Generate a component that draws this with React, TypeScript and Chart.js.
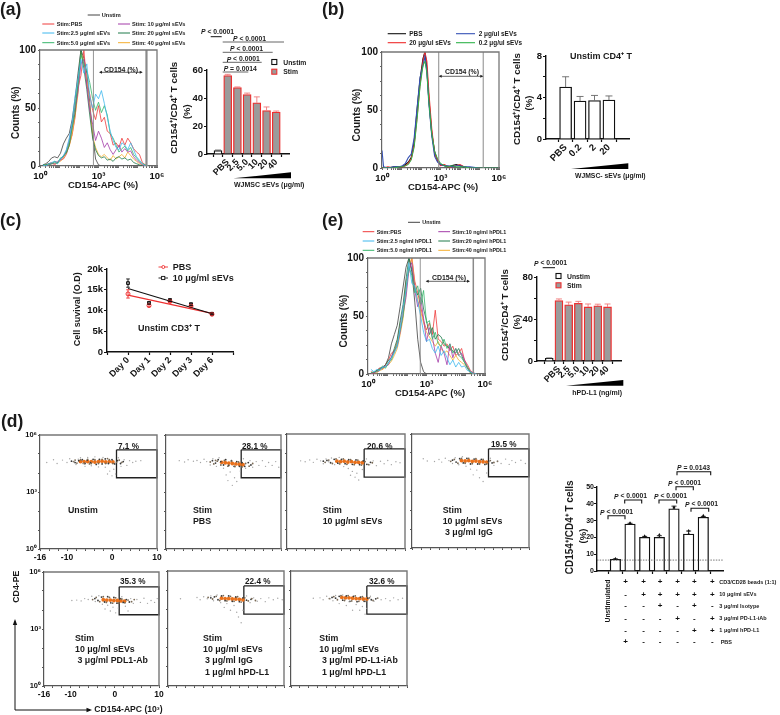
import React, { useEffect, useRef } from 'react';
import { Chart, registerables } from 'chart.js';
Chart.register(...registerables);

const FONT = '"Liberation Sans", Arial, sans-serif';

// ---------- histogram data (x = decades of CD154-APC, y = counts %) ----------
const binsHist = [0.15,0.3,0.45,0.6,0.75,0.9,1.05,1.2,1.35,1.5,1.65,1.8,1.95,2.1,2.25,2.4,2.55,2.7,2.85,3.0,3.15,3.3,3.45,3.6,3.75,3.9,4.05,4.2,4.35,4.5,4.65,4.8,4.95,5.1,5.25,5.4,5.55];
const aUnstim = [1,2,4,7,8,7,11,19,24,28,40,58,80,100,93,80,55,27,6,1,0,0,0,0,0,0,0,0,0,0,0,0,0,0,0,0,0];
const aPbs = [0,1,2,3,1,3,5,6,10,18,27,42,68,78,100,70,62,48,40,52,38,42,30,28,18,20,16,24,18,24,20,15,12,10,3,1,0];
const aS25 = [1,0,2,3,4,2,6,9,14,24,38,60,75,92,80,88,60,50,62,58,65,54,42,30,22,16,14,20,18,14,20,14,8,5,2,0,0];
const aS50 = [0,1,1,2,3,2,7,8,12,20,34,52,70,96,88,82,72,58,48,55,46,52,44,28,24,18,12,15,17,13,16,10,7,4,2,1,0];
const aS10 = [0,0,1,2,2,4,5,8,13,22,36,50,64,88,92,70,48,36,22,30,24,16,20,14,10,14,18,12,15,12,13,8,5,3,1,0,0];
const aS20 = [1,1,2,2,4,3,6,9,11,18,33,46,72,100,84,66,44,24,14,9,7,8,5,6,4,7,8,6,7,5,6,3,2,1,0,0,0];
const aS40 = [0,1,1,2,2,3,4,7,12,17,28,44,62,98,90,74,50,26,16,10,8,10,7,5,9,6,8,10,7,12,9,6,4,2,1,0,0];

const eUnstim = [0,1,3,5,6,8,14,26,34,42,58,75,92,100,88,62,30,10,2,0,0,0,0,0,0,0,0,0,0,0,0,0,0,0,0,0,0];
const ePbs = [2,1,3,5,4,8,12,18,20,28,44,56,80,88,100,80,70,58,46,38,44,34,55,30,28,24,26,20,24,16,18,22,12,8,3,1,0];
const eN25 = [4,2,4,3,6,6,10,14,18,24,40,58,72,96,78,76,62,50,36,28,30,22,18,24,16,20,14,8,12,6,10,6,7,3,2,0,0];
const eN50 = [1,2,2,4,7,5,10,12,19,26,38,50,74,92,85,70,76,60,72,44,46,30,36,26,24,30,22,26,18,22,16,14,10,6,2,0,0];
const eN10 = [0,1,2,3,6,7,8,15,20,24,36,52,66,90,96,72,58,66,48,28,40,32,18,10,24,18,8,26,14,22,16,18,12,6,2,1,0];
const eN20 = [1,1,3,4,5,8,12,14,22,30,46,60,82,100,90,74,68,74,56,46,34,40,30,34,32,26,24,22,20,18,22,16,10,5,1,0,0];
const eN40 = [0,1,1,3,4,6,8,11,16,22,34,48,70,94,100,76,64,54,44,36,32,28,24,28,22,18,20,16,12,16,12,10,8,5,1,0,0];

const binsB = [0,0.08,0.3,0.6,0.9,1.05,1.2,1.35,1.5,1.65,1.8,1.95,2.1,2.2,2.3,2.4,2.55,2.7,2.85,3.0,3.2,3.4,3.6,3.8,4.0,4.2,4.5,5.0,5.5,6];
const bPbs = [0,0,0,1,1,1,3,5,9,22,50,76,94,100,86,60,30,14,6,3,2,1,2,3,2,1,0,0,0,0];
const b20 = [0,0,1,0,1,1,2,4,8,20,44,72,92,100,92,66,34,12,7,2,3,1,1,2,3,1,0,0,0,0];
const b2 = [15,1,0,1,1,2,4,9,12,26,52,78,88,96,84,56,28,10,5,3,2,2,1,2,2,1,1,0,0,0];
const b02 = [0,0,0,0,1,1,2,3,7,18,42,70,88,92,82,58,30,14,8,4,2,1,2,1,1,1,0,0,0,0];

const histColors = { unstim:'#555555', pbs:'#ef3b3b', s25:'#3db7ee', s50:'#35b56a', s10:'#a33ba8', s20:'#1f7a4a', s40:'#f5ae2e' };

// ---------- bar data ----------
const aBarLabels = ['', 'PBS', '2.5', '5.0', '10', '20', '40'];
const aBarValues = [2.5, 56, 47.5, 42.5, 36.5, 31, 30];
const aBarErrors = [0.3, 0.9, 0.4, 1, 4.3, 2.6, 0.7];

const bBarLabels = ['PBS', '0.2', '2', '20'];
const bBarValues = [5, 3.65, 3.7, 3.75];
const bBarErrors = [1, 0.45, 0.5, 0.4];

const eBarLabels = ['', 'PBS', '2.5', '5.0', '10', '20', '40'];
const eBarValues = [2.5, 57.5, 53.5, 55, 51.5, 52.5, 51.5];
const eBarErrors = [0.4, 1.6, 2.6, 1.8, 2.8, 1.6, 2.8];

const dBarValues = [7, 28, 20, 20, 37, 22, 32];
const dBarErrors = [0.2, 0.4, 0.6, 1, 1.6, 1.8, 0.5];
const dRep1 = [7, 28.6, 20.8, 19.3, 38, 20.4, 32];
const dRep2 = [7.3, 28, 19.8, 21.6, 35, 24, 33];
const dRep3 = [6.9, 27.8, 20.2, 20, 37.6, 22, 32.2];
const dBaseline = 6.5;

// ---------- line data (c) ----------
const cDays = ['', 'Day 0', 'Day 1', 'Day 2', 'Day 3', 'Day 6', ''];
const cPbs = [14000, 11200, 12200, 11100, 9100];
const cPbsErr = [1000, 300, 300, 200, 200];
const cSev = [16600, 11800, 12500, 11500, 9200];
const cSevErr = [1000, 300, 300, 300, 200];
const cTrendPbs = [13700, 9300];
const cTrendSev = [15300, 9200];

// ---------- flow dot plots: flat x,y lists (biex 10^3 units, y in decades) ----------
const pale1 = [-14.5,4.55,-13,4.7,-12.2,4.5,-11,4.68,-10,4.55,-9.4,4.75,-8.7,4.6,-8,4.45,-7.5,4.72,-7,4.8,-6.5,4.5,-6,4.35,-5.4,4.82,-4.6,4.38,-3.8,4.85,-3,4.32,-2,4.82,-1.5,4.3,-1,3.95,-0.5,4.1,0,3.85,0.4,4.2,0.8,3.95,1.4,4.8,2,4.35,2.7,4.7,3.3,4.4,3.9,4.65,4.6,4.55,5.3,4.62,6.4,4.65];
const mid1 = [-8.5,4.6,-7.8,4.52,-7,4.7,-6.2,4.5,-5.4,4.72,-4.6,4.5,-3.8,4.7,-3,4.5,-2.2,4.72,-1.4,4.5,-0.6,4.7,0.2,4.5,1,4.56,1.6,4.68,-8.2,4.68,-5,4.48,-1,4.76,2.2,4.56];
const dark1 = [-9,4.62,-8.2,4.55,-7.4,4.65,-6.6,4.7,-6,4.5,-5.5,4.68,-4.8,4.55,-4.2,4.72,-3.5,4.45,-2.8,4.72,-2.2,4.48,-1.5,4.74,-0.8,4.5,0,4.7,0.6,4.48,1.2,4.65,1.9,4.5,2.5,4.6];
const core1 = [-7,4.6,-6.2,4.6,-5.4,4.6,-4.6,4.6,-3.8,4.58,-3,4.6,-2.2,4.62,-1.4,4.58,-0.6,4.6,0.2,4.58];
const pale2 = [-13,4.65,-11.8,4.58,-11,4.7,-9.8,4.62,-9,4.66,-8.2,4.55,-7.4,4.72,-6.8,4.6,-6,4.42,-5.4,4.75,-4.6,4.35,-4,4.8,-3,4.25,-2.4,3.9,-2,3.6,-1.5,4.05,-1,3.35,-0.5,3.75,0,3.55,0.8,4.1,1.5,4.75,2,4.25,3,4.65,3.6,4.3,4.4,4.6,5,4.4,5.8,4.65,6.5,4.35,7.2,4.55,8,4.4,8.8,4.6,9.5,4.3];
const mid2 = [-6,4.58,-5.2,4.48,-4.4,4.62,-3.6,4.42,-2.8,4.66,-2,4.36,-1.2,4.62,-0.4,4.34,0.4,4.58,1.2,4.32,2,4.5,2.8,4.36,3.6,4.5,-4.8,4.66];
const dark2 = [-5.5,4.65,-4.8,4.52,-4.2,4.7,-3.6,4.6,-3,4.42,-2.5,4.7,-1.8,4.4,-1.2,4.65,-0.6,4.35,0,4.6,0.6,4.35,1.2,4.55,1.8,4.35,2.6,4.55,3.2,4.42];
const core2 = [-3.4,4.56,-2.6,4.54,-1.8,4.52,-1,4.5,-0.2,4.48,0.6,4.46,1.4,4.44];
const pale3 = [-13,4.6,-12,4.55,-11,4.65,-10.2,4.52,-9.4,4.68,-8.6,4.6,-8,4.45,-7.4,4.7,-6.8,4.55,-6.2,4.75,-5.5,4.4,-4.5,4.78,-3.5,4.3,-2.5,4.2,-2,3.85,-1.6,4.05,-1,3.75,-0.6,3.95,-0.2,3.6,0.6,4.15,1.5,4.7,2.2,4.4,3,4.6,3.7,4.35,4.6,4.58,5.4,4.45,6.2,4.62,7,4.4,8,4.55,8.9,4.5];
const mid3 = [-7.6,4.52,-6.8,4.64,-6,4.46,-5.2,4.7,-4.4,4.44,-3.6,4.7,-2.8,4.42,-2,4.66,-1.2,4.4,-0.4,4.64,0.4,4.38,1.2,4.56,2,4.4,2.8,4.5];
const dark3 = [-8,4.58,-7.2,4.62,-6.4,4.5,-5.6,4.68,-4.8,4.48,-4,4.68,-3.2,4.45,-2.4,4.66,-1.6,4.42,-0.8,4.65,0,4.4,0.8,4.6,1.6,4.42,2.4,4.52];
const core3 = [-5,4.58,-4.2,4.56,-3.4,4.58,-2.6,4.54,-1.8,4.56,-1,4.52,-0.2,4.52,0.6,4.5];
const pale4 = [-13.5,4.7,-12.6,4.58,-11,4.55,-10,4.66,-9.4,4.52,-8.6,4.72,-7.8,4.6,-7,4.45,-6.4,4.75,-5.6,4.38,-4.8,4.8,-4,4.3,-3,4.15,-2.4,3.85,-1.6,4.1,-1,3.7,-0.2,3.5,0.6,3.95,1.4,4.72,2.2,4.35,3,4.6,3.8,4.45,4.8,4.68,5.6,4.4,6.2,4.6,7,4.5,8.2,4.62,9.2,4.45];
const mid4 = [-7.4,4.56,-6.6,4.66,-5.8,4.46,-5,4.72,-4.2,4.46,-3.4,4.72,-2.6,4.44,-1.8,4.7,-1,4.42,-0.2,4.66,0.6,4.42,1.4,4.6,2.2,4.5,3,4.56];
const dark4 = [-7,4.62,-6.2,4.52,-5.4,4.7,-4.6,4.48,-3.8,4.72,-3,4.42,-2.2,4.68,-1.4,4.42,-0.6,4.66,0.2,4.4,1,4.55,1.8,4.48];
const core4 = [-5,4.6,-4.2,4.58,-3.4,4.6,-2.6,4.56,-1.8,4.58,-1,4.54,-0.2,4.54,0.6,4.52];
const pale5 = [-9.7,4.5,-8.6,4.52,-7.6,4.48,-6.8,4.6,-6,4.55,-5.2,4.72,-4.4,4.45,-3.6,4.75,-2.8,4.3,-2.2,4.05,-1.6,4.25,-1,3.95,-0.4,4.15,0.2,3.85,0.8,4.1,1.6,4.7,2.4,4.2,3,3.95,3.6,4.6,4.2,4.35,5,4.55,5.8,4.4,6.6,4.62,7.4,4.35,8.2,4.5,9,4.4,9.6,4.6];
const mid5 = [-5,4.55,-4.2,4.66,-3.4,4.44,-2.6,4.7,-1.9,4.4,-1.2,4.66,-0.5,4.36,0.2,4.64,0.9,4.36,1.6,4.58,2.3,4.38,3,4.52,3.8,4.44,4.4,4.55];
const dark5 = [-4.5,4.6,-3.8,4.5,-3,4.68,-2.3,4.42,-1.6,4.7,-0.9,4.38,-0.2,4.66,0.5,4.36,1.2,4.6,1.9,4.4,2.6,4.55,3.3,4.42];
const core5 = [-2.6,4.54,-1.8,4.52,-1,4.52,-0.2,4.5,0.6,4.5,1.4,4.48,2.2,4.46];
const pale6 = [-13.2,4.55,-9.5,4.62,-8.8,4.5,-8,4.66,-7.2,4.55,-6.4,4.7,-5.8,4.45,-5,4.75,-4.2,4.35,-3.4,4.1,-2.8,4.3,-2,3.95,-1.2,4.2,-0.6,3.85,-0.2,3.6,0.4,3.3,0.8,3.95,1.6,4.7,2.4,4.35,3.2,4.6,4,4.42,4.8,4.56,5.8,4.4,6.6,4.6,7.6,4.5,8.6,4.58,9.6,4.5];
const mid6 = [-6,4.54,-5.2,4.68,-4.4,4.46,-3.6,4.72,-2.8,4.44,-2,4.68,-1.2,4.42,-0.4,4.66,0.4,4.38,1.2,4.6,2,4.44,2.8,4.56,3.6,4.46,-7,4.62];
const dark6 = [-6.4,4.6,-5.6,4.65,-4.8,4.5,-4,4.7,-3.2,4.45,-2.4,4.7,-1.6,4.42,-0.8,4.65,0,4.4,0.8,4.6,1.6,4.48,2.6,4.52];
const core6 = [-4,4.58,-3.2,4.56,-2.4,4.56,-1.6,4.54,-0.8,4.54,0,4.52,0.8,4.5];
const pale7 = [-11,4.58,-9.5,4.6,-8.8,4.5,-8,4.68,-7.2,4.55,-6.6,4.45,-6,4.72,-5.2,4.3,-4.4,4.75,-3.6,4.2,-3,4.4,-2.2,3.95,-1.4,4.25,-0.6,3.95,0,4.15,0.6,3.75,1,4.05,1.8,4.68,2.6,4.42,3.4,4.6,4.2,4.5,5.2,4.56,6.2,4.45,7,4.6,8,4.5,9,4.58];
const mid7 = [-6.4,4.66,-5.6,4.5,-4.8,4.72,-4,4.46,-3.2,4.72,-2.4,4.44,-1.6,4.7,-0.8,4.42,0,4.66,0.8,4.42,1.6,4.6,2.4,4.46,3.4,4.58,-7.4,4.56];
const dark7 = [-6.8,4.62,-6,4.58,-5.2,4.68,-4.4,4.48,-3.6,4.7,-2.8,4.42,-2,4.68,-1.2,4.4,-0.4,4.64,0.4,4.42,1.2,4.58,2,4.5,3,4.55];
const core7 = [-4.6,4.62,-3.8,4.6,-3,4.6,-2.2,4.58,-1.4,4.56,-0.6,4.56,0.2,4.54,1,4.54];

const gateX = [1, 1, 10, 10, 1];
const gateY = [5.22, 3.75, 3.75, 5.22, 5.22];

// table under the (d) bars
const tableRows = ['CD3/CD28 beads (1:1)', '10 μg/ml sEVs', '3 μg/ml Isotype', '3 μg/ml PD-L1-iAb', '1 μg/ml hPD-L1', 'PBS'];
const tableMarks = [
  ['+', '+', '+', '+', '+', '+'],
  ['-', '+', '+', '+', '+', '+'],
  ['-', '-', '+', '-', '+', '-'],
  ['-', '-', '-', '+', '-', '+'],
  ['-', '-', '-', '-', '+', '+'],
  ['+', '-', '-', '-', '-', '-'],
];

// ---------- helpers ----------
const zip = (xs: number[], ys: number[]) => xs.map((x, i) => ({ x, y: ys[i] }));
const flat = (a: number[]) => {
  const out: any[] = [];
  for (let i = 0; i < a.length; i += 2) out.push({ x: a[i], y: a[i + 1] });
  return out;
};

const framePlugin = {
  id: 'frame',
  afterDatasetsDraw(chart: any, _a: any, o: any) {
    if (!o || !o.color) return;
    const { ctx, chartArea: c } = chart;
    ctx.save();
    ctx.strokeStyle = o.color;
    ctx.lineWidth = o.width || 1;
    ctx.beginPath();
    ctx.moveTo(c.left, c.top);
    ctx.lineTo(c.right, c.top);
    ctx.lineTo(c.right, c.bottom);
    ctx.stroke();
    ctx.restore();
  },
};

const errorPlugin = {
  id: 'errs',
  afterDatasetsDraw(chart: any) {
    const { ctx } = chart;
    chart.data.datasets.forEach((ds: any, di: number) => {
      if (!ds.errors) return;
      const meta = chart.getDatasetMeta(di);
      const ys = chart.scales.y;
      ds.errors.forEach((e: number, i: number) => {
        const el = meta.data[i];
        const v = ds.data[i].y;
        const col = Array.isArray(ds.errorColor) ? ds.errorColor[i] : ds.errorColor;
        const top = ys.getPixelForValue(v + e);
        const bot = ds.errorBoth ? ys.getPixelForValue(v - e) : el.y;
        ctx.save();
        ctx.strokeStyle = col;
        ctx.lineWidth = 0.9;
        ctx.beginPath();
        ctx.moveTo(el.x, top);
        ctx.lineTo(el.x, bot);
        ctx.moveTo(el.x - ds.errorCap, top);
        ctx.lineTo(el.x + ds.errorCap, top);
        if (ds.errorBoth) {
          ctx.moveTo(el.x - ds.errorCap, bot);
          ctx.lineTo(el.x + ds.errorCap, bot);
        }
        ctx.stroke();
        ctx.restore();
      });
    });
  },
};

const refLinePlugin = {
  id: 'refLine',
  afterDatasetsDraw(chart: any, _a: any, o: any) {
    if (!o || o.value === undefined) return;
    const { ctx, chartArea: c } = chart;
    const y = chart.scales.y.getPixelForValue(o.value);
    ctx.save();
    ctx.strokeStyle = '#555';
    ctx.lineWidth = 0.8;
    ctx.setLineDash([1.5, 1.2]);
    ctx.beginPath();
    ctx.moveTo(c.left, y);
    ctx.lineTo(c.right, y);
    ctx.stroke();
    ctx.restore();
  },
};

type Axis = {
  min: number; max: number; ticks: number[]; label: (v: number) => string; fontSize?: number;
  rot?: number; color?: string; width?: number; tick?: number; pad?: number; bold?: boolean;
};
const mkAxis = (a: Axis, size: number, isX: boolean) => ({
  type: 'linear',
  min: a.min,
  max: a.max,
  border: { color: a.color || '#111', width: a.width || 1.4 },
  grid: { drawOnChartArea: false, drawTicks: true, tickLength: a.tick ?? 3, tickColor: a.color || '#111', tickWidth: a.width ? Math.min(a.width, 1) : 1.2 },
  ticks: {
    autoSkip: false,
    maxRotation: a.rot || 0,
    minRotation: a.rot || 0,
    padding: a.pad ?? 1,
    color: '#111',
    font: { family: FONT, size: a.fontSize || 9.5, weight: 'bold' },
    callback: (v: any) => a.label(Number(v)),
  },
  afterBuildTicks: (s: any) => { s.ticks = a.ticks.map((value) => ({ value })); },
  afterFit: (s: any) => {
    if (isX) s.height = size; else s.width = size;
    s.paddingLeft = 0; s.paddingRight = 0; s.paddingTop = 0; s.paddingBottom = 0;
  },
});

type Spec = { box: [number, number, number, number]; m: [number, number, number, number]; cfg: any };
const mk = (box: Spec['box'], m: Spec['m'], x: Axis, y: Axis, type: string, datasets: any[], plugins: any = {}): Spec => ({
  box, m,
  cfg: {
    type,
    data: { datasets },
    options: {
      animation: false, responsive: false, events: [], devicePixelRatio: 1,
      layout: { padding: { top: m[1], right: m[2], left: 0, bottom: 0 } },
      scales: { x: mkAxis(x, m[3], true), y: mkAxis(y, m[0], false) },
      plugins: { legend: { display: false }, tooltip: { enabled: false }, ...plugins },
    },
    plugins: [errorPlugin, framePlugin, refLinePlugin],
  },
});

// ---------- histogram panels ----------
const sup: Record<number, string> = { 0: '10⁰', 3: '10³', 6: '10⁶' };
const logX = (fs = 9.5): Axis => ({
  min: 0, max: 6,
  ticks: [0,0.3,0.48,0.6,0.7,0.78,0.85,0.9,0.95,1,1.3,1.48,1.6,1.7,1.78,1.85,1.9,1.95,2,2.3,2.48,2.6,2.7,2.78,2.85,2.9,2.95,3,3.3,3.48,3.6,3.7,3.78,3.85,3.9,3.95,4,4.3,4.48,4.6,4.7,4.78,4.85,4.9,4.95,5,5.3,5.48,5.6,5.7,5.78,5.85,5.9,5.95,6],
  label: (v) => sup[v] || '', color: '#666', width: 1.2, tick: 2, fontSize: fs, pad: 3,
});
const countY: Axis = {
  min: 0, max: 100, ticks: [0,12.5,25,37.5,50,62.5,75,87.5,100],
  label: (v) => (v % 50 === 0 ? String(v) : ''), color: '#666', width: 1.2, tick: 2, fontSize: 10, pad: 2,
};
const curve = (xs: number[], ys: number[], c: string, w = 0.8) => ({
  type: 'line', data: zip(xs, ys), borderColor: c, borderWidth: w, pointRadius: 0, tension: 0, fill: false,
});
const gate = (v: number, w: number) => ({
  type: 'line', data: [{ x: v, y: 0 }, { x: v, y: 100 }], borderColor: '#8a8a8a', borderWidth: w, pointRadius: 0,
});
const histFrame = { frame: { color: '#777', width: 1.3 } };
const HM: Spec['m'] = [32, 10, 12, 18];

const histA = mk([40, 50, 157, 166], HM, logX(), countY, 'line', [
  gate(2.74, 0.9), gate(5.46, 2.2),
  curve(binsHist, aS25, histColors.s25), curve(binsHist, aS50, histColors.s50), curve(binsHist, aS10, histColors.s10),
  curve(binsHist, aS20, histColors.s20), curve(binsHist, aS40, histColors.s40), curve(binsHist, aPbs, histColors.pbs),
  curve(binsHist, aUnstim, histColors.unstim, 0.9),
], histFrame);
const histB = mk([382, 52, 499, 168], HM, logX(), countY, 'line', [
  gate(2.91, 1), gate(5.19, 1),
  curve(binsB, b02, '#2fb34a', 1), curve(binsB, b2, '#3551b5', 1.1), curve(binsB, b20, '#ef2b2b', 1.1), curve(binsB, bPbs, '#111', 1.2),
], histFrame);
const histE = mk([368, 258, 485, 374], HM, logX(), countY, 'line', [
  gate(2.68, 0.9), gate(5.4, 1.5),
  curve(binsHist, eN25, histColors.s25), curve(binsHist, eN50, histColors.s50), curve(binsHist, eN10, histColors.s10),
  curve(binsHist, eN20, histColors.s20), curve(binsHist, eN40, histColors.s40), curve(binsHist, ePbs, histColors.pbs),
  curve(binsHist, eUnstim, histColors.unstim, 0.9),
], histFrame);

// ---------- bar panels ----------
const idx = (n: number) => Array.from({ length: n }, (_, i) => i);
const bars = (vals: number[], errs: number[], thick: number, fill: string[], line: string[], errC: string[], cap: number) => ({
  type: 'bar', data: vals.map((y, x) => ({ x, y })), barThickness: thick, backgroundColor: fill, borderColor: line,
  borderWidth: 1.3, errors: errs, errorColor: errC, errorCap: cap,
});
const stimFill = ['#ffffff', '#9b9b9b', '#9b9b9b', '#9b9b9b', '#9b9b9b', '#9b9b9b', '#9b9b9b'];
const stimLine = ['#111', '#ee2f2f', '#ee2f2f', '#ee2f2f', '#ee2f2f', '#ee2f2f', '#ee2f2f'];
const stimErr = ['#555', '#f07a7a', '#f07a7a', '#f07a7a', '#f07a7a', '#f07a7a', '#f07a7a'];

const barA = mk([207, 70, 289, 154], [24, 6, 6, 34],
  { min: -0.53, max: 6.71, ticks: idx(7), label: (v) => aBarLabels[v] ?? '', rot: 45, fontSize: 9, pad: 0 },
  { min: 0, max: 60, ticks: [0, 20, 40, 60], label: (v) => String(v), fontSize: 9.5, pad: 1 },
  'bar', [bars(aBarValues, aBarErrors, 8, stimFill, stimLine, stimErr, 3)]);
const barB = mk([546, 56, 629, 139], [24, 6, 6, 34],
  { min: -0.64, max: 3.67, ticks: idx(4), label: (v) => bBarLabels[v] ?? '', rot: 45, fontSize: 9.5, pad: 0 },
  { min: 0, max: 8, ticks: [0, 2, 4, 6, 8], label: (v) => (v % 4 === 0 ? String(v) : ''), fontSize: 9.5, pad: 1 },
  'bar', [bars(bBarValues, bBarErrors, 12, ['#fff','#fff','#fff','#fff'], ['#111','#111','#111','#111'], ['#666','#666','#666','#666'], 3.5)]);
const barE = mk([537, 277, 621, 361], [24, 6, 6, 34],
  { min: -0.64, max: 6.77, ticks: idx(7), label: (v) => eBarLabels[v] ?? '', rot: 45, fontSize: 9, pad: 0 },
  { min: 0, max: 80, ticks: [0, 20, 40, 60, 80], label: (v) => (v % 40 === 0 ? String(v) : ''), fontSize: 9.5, pad: 1 },
  'bar', [bars(eBarValues, eBarErrors, 8, stimFill, stimLine, stimErr, 3)]);
const replicate = (ys: number[]) => ({
  type: 'line', data: ys.map((y, x) => ({ x, y })), showLine: false, pointStyle: 'triangle', pointRadius: 1.7,
  pointBackgroundColor: '#111', pointBorderColor: '#111', pointBorderWidth: 0,
});
const barD = mk([597, 487, 723, 571], [20, 6, 4, 6],
  { min: -0.64, max: 6.73, ticks: idx(7), label: () => '', fontSize: 8, pad: 0, tick: 3 },
  { min: 0, max: 50, ticks: [0, 10, 20, 30, 40, 50], label: (v) => String(v), fontSize: 7, pad: 0 },
  'bar', [
    bars(dBarValues, dBarErrors, 10.5, Array(7).fill('#fff'), Array(7).fill('#111'), Array(7).fill('#111'), 2.5),
    replicate(dRep1), replicate(dRep2), replicate(dRep3),
  ], { refLine: { value: dBaseline } });

// ---------- line panel ----------
const cMark = (ys: number[], errs: number[], c: string, style: string) => ({
  type: 'line', data: ys.map((y, x) => ({ x, y })), showLine: false, pointStyle: style, pointRadius: 2, pointBackgroundColor: 'rgba(255,255,255,0)',
  pointBorderColor: c, pointBorderWidth: 1, errors: errs, errorColor: c, errorCap: 1.8, errorBoth: true,
});
const lineC = mk([107, 269, 233, 352], [30, 6, 6, 34],
  { min: -1, max: 5, ticks: [-1, 0, 1, 2, 3, 4, 5], label: (v) => cDays[v + 1] ?? '', rot: 45, fontSize: 9, pad: 0 },
  { min: 0, max: 20000, ticks: [0, 5000, 10000, 15000, 20000], label: (v) => (v === 0 ? '0' : v / 1000 + 'k'), fontSize: 9.5, pad: 1 },
  'line', [
    { type: 'line', data: [{ x: 0, y: cTrendSev[0] }, { x: 4, y: cTrendSev[1] }], borderColor: '#111', borderWidth: 1.1, pointRadius: 0 },
    { type: 'line', data: [{ x: 0, y: cTrendPbs[0] }, { x: 4, y: cTrendPbs[1] }], borderColor: '#ee2f2f', borderWidth: 1.1, pointRadius: 0 },
    cMark(cPbs, cPbsErr, '#ee2f2f', 'circle'),
    cMark(cSev, cSevErr, '#111', 'rect'),
  ]);

// ---------- flow plots ----------
const dotX = (lab: boolean): Axis => ({
  min: -16, max: 10,
  ticks: [-16,-14,-12,-10,-8,-6,-4,-2,0,2,4,6,8,10],
  label: (v) => (lab && (v === -16 || v === -10 || v === 0 || v === 10) ? String(v) : ''),
  color: '#555', width: 1.2, tick: 2, fontSize: 8.5, pad: 2,
});
const dotY = (lab: boolean): Axis => ({
  min: 0, max: 6,
  ticks: [0, 1, 2, 3, 4, 5, 6],
  label: (v) => (lab && sup[v] ? sup[v] : ''),
  color: '#555', width: 1.2, tick: 2, fontSize: 7.5, pad: 1,
});
const dots = (a: number[], c: string, r: number) => ({
  type: 'scatter', data: flat(a), showLine: false, pointRadius: r, pointBorderWidth: 0, pointBackgroundColor: c,
});
const dotPanel = (box: Spec['box'], lab: boolean, pale: number[], mid: number[], dark: number[], core: number[]) =>
  mk(box, [26, 8, 8, 18], dotX(lab), dotY(lab), 'scatter', [
    dots(pale, '#a5a5a5', 0.7), dots(mid, '#7a6a55', 0.9), dots(dark, '#3a3a3a', 0.9), dots(core, '#e9701a', 1.9),
    { type: 'line', data: zip(gateX, gateY), borderColor: '#222', borderWidth: 1.3, pointRadius: 0, clip: false },
  ], { frame: { color: '#777', width: 1.4 } });

const charts: Spec[] = [
  histA, barA, histB, barB, lineC, histE, barE,
  dotPanel([40, 435, 157, 549], true, pale1, mid1, dark1, core1),
  dotPanel([166, 435, 281, 549], false, pale2, mid2, dark2, core2),
  dotPanel([287, 434, 405, 549], false, pale3, mid3, dark3, core3),
  dotPanel([412, 434, 529, 548], false, pale4, mid4, dark4, core4),
  dotPanel([44, 572, 159, 686], true, pale5, mid5, dark5, core5),
  dotPanel([168, 571, 284, 686], false, pale6, mid6, dark6, core6),
  dotPanel([291, 571, 407, 686], false, pale7, mid7, dark7, core7),
  barD,
];

// ---------- overlay: text and annotation marks ----------
type Tx = [string, number, number, number, any?];
const B = { w: 'bold' };
const texts: Tx[] = [
  ['(a)', 0, 9, 17.5, B], ['(b)', 322, 9, 17.5, B], ['(c)', 0, 220, 17.5, B], ['(e)', 322, 220, 17.5, B], ['(d)', 1, 421, 17.5, B],
  // a legend
  ['Unstim', 101.7, 15, 5.6, B], ['Stim:PBS', 56.7, 24, 5.6, B], ['Stim:2.5 μg/ml sEVs', 56.7, 33, 5.6, B], ['Stim:5.0 μg/ml sEVs', 56.7, 42.7, 5.6, B],
  ['Stim: 10 μg/ml sEVs', 132, 24, 5.6, B], ['Stim: 20 μg/ml sEVs', 132, 33, 5.6, B], ['Stim: 40 μg/ml sEVs', 132, 42.7, 5.6, B],
  ['Counts (%)', 16, 112.7, 10, { w: 'bold', rot: -90, a: 'middle' }],
  ['CD154-APC (%)', 103, 184.3, 9.5, { w: 'bold', a: 'middle' }],
  ['CD154 (%)', 121, 69, 6.9, { w: 'bold', a: 'middle' }],
  ['CD154⁺/CD4⁺ T cells', 174, 107.7, 9.8, { w: 'bold', rot: -90, a: 'middle' }],
  ['(%)', 186.7, 111.7, 9.5, { w: 'bold', rot: -90, a: 'middle' }],
  ['P < 0.0001', 201, 31, 6.8, B], ['P < 0.0001', 233, 38, 6.8, B], ['P < 0.0001', 230, 48.3, 6.8, B], ['P < 0.0001', 226.7, 58.7, 6.8, B], ['P = 0.0014', 223.7, 68.3, 6.8, B],
  ['Unstim', 283.3, 62, 6.8, B], ['Stim', 283.3, 71.7, 6.8, B],
  ['WJMSC sEVs (μg/ml)', 234, 184.3, 7, B],
  // b
  ['PBS', 409.3, 33.7, 6.4, B], ['20 μg/ul sEVs', 409.3, 42.7, 6.4, B], ['2 μg/ul sEVs', 478.7, 33.7, 6.4, B], ['0.2 μg/ul sEVs', 478.7, 42.7, 6.4, B],
  ['Counts (%)', 356.5, 115, 10, { w: 'bold', rot: -90, a: 'middle' }],
  ['CD154-APC (%)', 443, 186.7, 9.5, { w: 'bold', a: 'middle' }],
  ['CD154 (%)', 462, 71.7, 6.9, { w: 'bold', a: 'middle' }],
  ['CD154⁺/CD4⁺ T cells', 516.7, 99, 9.8, { w: 'bold', rot: -90, a: 'middle' }],
  ['(%)', 528, 103, 9.5, { w: 'bold', rot: -90, a: 'middle' }],
  ['Unstim CD4⁺ T', 570, 56, 9, B],
  ['WJMSC- sEVs (μg/ml)', 575, 175.7, 6.8, B],
  // c
  ['Cell suvival (O.D)', 77.3, 309.3, 9, { w: 'bold', rot: -90, a: 'middle' }],
  ['PBS', 172.7, 267, 9, B], ['10 μg/ml sEVs', 172.7, 278, 9, B],
  ['Unstim CD3⁺ T', 138, 328, 9, B],
  // e
  ['Unstim', 422.3, 222.3, 5.4, B], ['Stim:PBS', 376.7, 231.7, 5.4, B], ['Stim:2.5 ng/ml hPDL1', 376.7, 241, 5.4, B], ['Stim:5.0 ng/ml hPDL1', 376.7, 250.3, 5.4, B],
  ['Stim:10 ng/ml hPDL1', 452.3, 231.7, 5.4, B], ['Stim:20 ng/ml hPDL1', 452.3, 241, 5.4, B], ['Stim:40 ng/ml hPDL1', 452.3, 250.3, 5.4, B],
  ['Counts (%)', 343, 321, 10, { w: 'bold', rot: -90, a: 'middle' }],
  ['CD154-APC (%)', 430, 392.3, 9.5, { w: 'bold', a: 'middle' }],
  ['CD154 (%)', 449, 277.3, 6.9, { w: 'bold', a: 'middle' }],
  ['CD154⁺/CD4⁺ T cells', 504.3, 315, 9.8, { w: 'bold', rot: -90, a: 'middle' }],
  ['(%)', 516, 322, 9.5, { w: 'bold', rot: -90, a: 'middle' }],
  ['P < 0.0001', 534, 262.7, 6.8, B],
  ['Unstim', 567, 276, 6.8, B], ['Stim', 567, 285.3, 6.8, B],
  ['hPD-L1 (ng/ml)', 572.3, 392.7, 7, B],
  // d plots
  ['7.1 %', 118, 446, 8.2, B], ['28.1 %', 242, 446, 8.2, B], ['20.6 %', 367, 446, 8.2, B], ['19.5 %', 491, 444.5, 8.2, B],
  ['35.3 %', 120, 581, 8.2, B], ['22.4 %', 245, 581, 8.2, B], ['32.6 %', 369, 581, 8.2, B],
  ['Unstim', 68, 509.7, 8.8, B],
  ['Stim', 193, 509.7, 8.8, B], ['PBS', 193, 520.7, 8.8, B],
  ['Stim', 322.7, 509.7, 8.8, B], ['10 μg/ml sEVs', 322.7, 520.7, 8.8, B],
  ['Stim', 442.7, 509.7, 8.8, B], ['10 μg/ml sEVs', 442.7, 520.7, 8.8, B], ['3 μg/ml IgG', 445, 531.7, 8.8, B],
  ['Stim', 75, 638, 8.8, B], ['10 μg/ml sEVs', 75, 649.3, 8.8, B], ['3 μg/ml PDL1-Ab', 77.5, 660, 8.8, B],
  ['Stim', 203, 638, 8.8, B], ['10 μg/ml sEVs', 203, 649.3, 8.8, B], ['3 μg/ml IgG', 205, 660, 8.8, B], ['1 μg/ml hPD-L1', 205, 671.7, 8.8, B],
  ['Stim', 319.3, 638, 8.8, B], ['10 μg/ml sEVs', 319.3, 649.3, 8.8, B], ['3 μg/ml PD-L1-iAb', 322, 660, 8.8, B], ['1 μg/ml hPD-L1', 322, 671.7, 8.8, B],
  ['CD4-PE', 15.7, 586.7, 8.8, { w: 'bold', rot: -90, a: 'middle' }],
  ['CD154-APC (10³)', 94.3, 709.3, 8.6, B],
  // d bars
  ['CD154⁺/CD4⁺ T cells', 570, 527.3, 10, { w: 'bold', rot: -90, a: 'middle' }],
  ['(%)', 582.3, 536, 9.5, { w: 'bold', rot: -90, a: 'middle' }],
  ['P < 0.0001', 600, 511.7, 6.8, B], ['P < 0.0001', 614, 495.7, 6.8, B], ['P < 0.0001', 654, 495.7, 6.8, B],
  ['P < 0.0001', 668, 482.7, 6.8, B], ['P < 0.0001', 685, 503.7, 6.8, B], ['P = 0.0143', 677, 467, 6.8, B],
  ['Unstimulated', 607, 601, 6.8, { w: 'bold', rot: -90, a: 'middle' }],
];

const sigLines: [number, number, number, string][] = [
  [210.7, 221.7, 36.7, '#111'], [222.7, 284, 42, '#666'], [222.7, 272.7, 52.3, '#666'], [222.7, 261.7, 62.3, '#666'], [222.7, 248.3, 72, '#666'],
  [542.7, 555, 267.7, '#111'],
];
const brackets: [number, number, number][] = [
  [608, 625, 515.7], [624.7, 641.7, 500], [659, 676.7, 500], [676, 693.3, 486.7], [691, 708.7, 508.3], [677, 710.7, 471.7],
];
const legendLines: [number, number, number, string, number][] = [
  [87.7, 100, 15, '#444', 1], [42.3, 54.3, 24, histColors.pbs, 1], [42.3, 54.3, 33, histColors.s25, 1], [42.3, 54.3, 42.7, histColors.s50, 1],
  [118, 130, 24, histColors.s10, 1], [118, 130, 33, histColors.s20, 1], [118, 130, 42.7, histColors.s40, 1],
  [387.7, 406, 33.7, '#111', 1.1], [387.7, 406, 42.7, '#ef2b2b', 1.1], [456, 475, 33.7, '#3551b5', 1.1], [456, 475, 42.7, '#2fb34a', 1.1],
  [408, 420, 222.3, '#444', 1], [362.7, 374.3, 231.7, histColors.pbs, 1], [362.7, 374.3, 241, histColors.s25, 1], [362.7, 374.3, 250.3, histColors.s50, 1],
  [438.3, 450, 231.7, histColors.s10, 1], [438.3, 450, 241, histColors.s20, 1], [438.3, 450, 250.3, histColors.s40, 1],
  [158.5, 168, 267, '#ee2f2f', 0.9], [158.5, 168, 278, '#111', 0.9],
];
const wedges: [number, number, number, number][] = [[233.3, 291, 178.3, 172.3], [571, 628.3, 169, 163.3], [566, 623.3, 385.7, 380]];
const arrows: [number, number, number][] = [[99, 142.7, 72.3], [438.7, 483.3, 76.3], [425.7, 470, 281.3]];
const squares: [number, number, string, string][] = [
  [274.3, 62, '#fff', '#111'], [274.3, 71.7, '#9b9b9b', '#ee2f2f'], [558.5, 276, '#fff', '#111'], [558.5, 285.3, '#9b9b9b', '#ee2f2f'],
];
const tableCols = [625.7, 643.7, 660, 677.7, 694.3, 712.3];
const tableYs = [581.7, 594, 605.7, 618.3, 630.3, 641.7];

function Overlay() {
  return (
    <svg width={780} height={715} style={{ position: 'absolute', left: 0, top: 0, pointerEvents: 'none' }}>
      {sigLines.map(([a, b, y, c], i) => <line key={'s' + i} x1={a} x2={b} y1={y} y2={y} stroke={c} strokeWidth={1} />)}
      {brackets.map(([a, b, y], i) => <path key={'b' + i} d={`M${a} ${y + 3.5}V${y}H${b}V${y + 3.5}`} fill="none" stroke="#111" strokeWidth={1.1} />)}
      {legendLines.map(([a, b, y, c, w], i) => <line key={'l' + i} x1={a} x2={b} y1={y} y2={y} stroke={c} strokeWidth={w} />)}
      {wedges.map(([a, b, y0, y1], i) => <polygon key={'w' + i} points={`${a},${y0} ${b},${y0} ${b},${y1}`} fill="#000" />)}
      {arrows.map(([a, b, y], i) => (
        <g key={'a' + i}>
          <line x1={a + 1} x2={b - 1} y1={y} y2={y} stroke="#222" strokeWidth={0.7} />
          <polygon points={`${a},${y} ${a + 3},${y - 1.5} ${a + 3},${y + 1.5}`} fill="#222" />
          <polygon points={`${b},${y} ${b - 3},${y - 1.5} ${b - 3},${y + 1.5}`} fill="#222" />
        </g>
      ))}
      {squares.map(([x, y, f, s], i) => <rect key={'q' + i} x={x - 2.5} y={y - 2.5} width={5} height={5} fill={f} stroke={s} strokeWidth={1.1} />)}
      <circle cx={163.3} cy={267} r={1.5} fill="#fff" stroke="#ee2f2f" strokeWidth={0.9} />
      <rect x={161.6} y={276.4} width={3.2} height={3.2} fill="#fff" stroke="#111" strokeWidth={0.9} />
      <path d="M15 621.7V710H90" fill="none" stroke="#111" strokeWidth={1} />
      <polygon points="15,619 12.8,625 17.2,625" fill="#111" />
      <polygon points="92,710 86.5,707.8 86.5,712.2" fill="#111" />
      {tableRows.map((r, i) => (
        <text key={'r' + i} x={r === 'PBS' ? 720.7 : 719.3} y={tableYs[i]} fontSize={5.5} fontWeight="bold" fontFamily={FONT} dominantBaseline="central" fill="#222">{r}</text>
      ))}
      {tableMarks.map((row, i) => row.map((m, j) => (
        <text key={`m${i}-${j}`} x={tableCols[j]} y={tableYs[i]} fontSize={8} fontWeight="bold" fontFamily={FONT} textAnchor="middle" dominantBaseline="central" fill="#111">{m}</text>
      )))}
      {texts.map(([s, x, y, size, o], i) => (
        <text key={'t' + i} x={x} y={y} fontSize={size} fontWeight={o?.w || 'normal'} fontFamily={FONT} textAnchor={o?.a || 'start'}
          dominantBaseline="central" fill="#1a1a1a" transform={o?.rot ? `rotate(${o.rot} ${x} ${y})` : undefined}>
          {s.startsWith('P ') ? <><tspan fontStyle="italic">P</tspan>{s.slice(1)}</> : s}
        </text>
      ))}
    </svg>
  );
}

function Plot({ spec }: { spec: Spec }) {
  const ref = useRef<HTMLCanvasElement | null>(null);
  useEffect(() => {
    const chart = new Chart(ref.current as HTMLCanvasElement, spec.cfg);
    return () => chart.destroy();
  }, [spec]);
  const [l, t, r, b] = spec.box;
  const [ml, mt, mr, mb] = spec.m;
  return (
    <canvas ref={ref} width={r - l + ml + mr} height={b - t + mt + mb}
      style={{ position: 'absolute', left: l - ml, top: t - mt, display: 'block' }} />
  );
}

export default function App() {
  return (
    <div style={{ position: 'absolute', left: 0, top: 0, width: 780, height: 715, background: '#fff', overflow: 'hidden', filter: 'blur(0.3px)' }}>
      {charts.map((s, i) => <Plot key={i} spec={s} />)}
      <Overlay />
    </div>
  );
}
